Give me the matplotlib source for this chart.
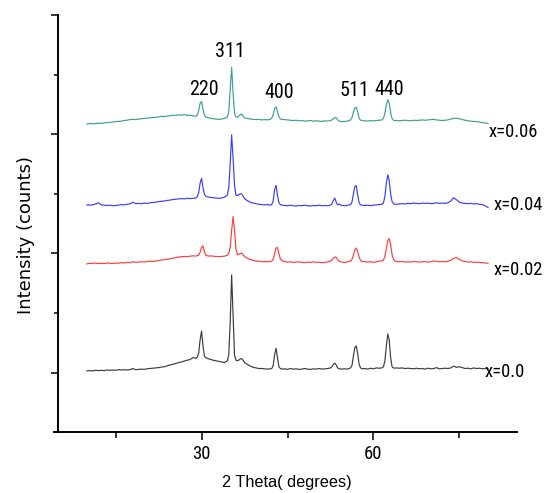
import matplotlib
matplotlib.use("Agg")
import matplotlib.pyplot as plt
from matplotlib.ticker import FixedLocator, NullFormatter
from matplotlib.font_manager import FontProperties
import numpy as np

plt.rcParams['font.family'] = ['Liberation Sans', 'DejaVu Sans']

# ---------------- data (2 theta grid, by segment) ----------------
theta_segments = [
    [10.0, 10.5, 11.0, 11.5, 12.0, 12.5, 13.0, 13.5, 14.0, 14.5, 15.0, 15.5, 16.0, 16.5,
     17.0, 17.5, 18.0, 18.5, 19.0, 19.5, 20.0, 20.5, 21.0, 21.5, 22.0, 22.5, 23.0, 23.5,
     24.0, 24.5, 25.0, 25.5, 26.0, 26.5, 27.0, 27.5, 28.0, 28.5],
    [29.0, 29.25, 29.5, 29.75, 30.0, 30.25, 30.5, 30.75, 31.0, 31.25, 31.5],
    [32.0, 32.5, 33.0, 33.5, 34.0, 34.5],
    [34.75, 35.0, 35.25, 35.5, 35.75, 36.0, 36.25, 36.5, 36.75, 37.0, 37.25, 37.5],
    [38.0, 38.5, 39.0, 39.5, 40.0, 40.5, 41.0, 41.5, 42.0],
    [42.25, 42.5, 42.75, 43.0, 43.25, 43.5, 43.75, 44.0],
    [44.5, 45.0, 45.5, 46.0, 46.5, 47.0, 47.5, 48.0, 48.5, 49.0, 49.5, 50.0, 50.5, 51.0,
     51.5, 52.0, 52.5],
    [52.75, 53.0, 53.25, 53.5, 53.75, 54.0],
    [54.5, 55.0, 55.5, 56.0],
    [56.25, 56.5, 56.75, 57.0, 57.25, 57.5, 57.75, 58.0],
    [58.5, 59.0, 59.5, 60.0, 60.5, 61.0, 61.5],
    [61.75, 62.0, 62.25, 62.5, 62.75, 63.0, 63.25, 63.5, 63.75],
    [64.0, 64.5, 65.0, 65.5, 66.0, 66.5, 67.0, 67.5, 68.0, 68.5, 69.0, 69.5, 70.0, 70.5,
     71.0, 71.5, 72.0, 72.5, 73.0, 73.5, 74.0, 74.5, 75.0, 75.5, 76.0, 76.5, 77.0, 77.5,
     78.0, 78.5, 79.0, 79.5, 80.0],
]

# intensities (offset, arbitrary units) for each sample
int_x000 = [
    [1.03, 1.035, 1.03, 1.04, 1.035, 1.04, 1.035, 1.045, 1.04, 1.045, 1.04, 1.05, 1.045, 1.05,
     1.045, 1.05, 1.07, 1.05, 1.055, 1.06, 1.055, 1.065, 1.07, 1.075, 1.08, 1.085, 1.095, 1.10,
     1.115, 1.13, 1.14, 1.155, 1.17, 1.18, 1.195, 1.21, 1.22, 1.255],
    [1.24, 1.26, 1.33, 1.55, 1.70, 1.45, 1.28, 1.25, 1.24, 1.23, 1.225],
    [1.21, 1.20, 1.19, 1.18, 1.17, 1.20],
    [1.30, 1.85, 2.64, 1.95, 1.30, 1.21, 1.20, 1.21, 1.23, 1.235, 1.21, 1.17],
    [1.14, 1.11, 1.09, 1.08, 1.07, 1.07, 1.065, 1.06, 1.065],
    [1.07, 1.12, 1.30, 1.41, 1.25, 1.10, 1.07, 1.06],
    [1.065, 1.055, 1.07, 1.06, 1.065, 1.055, 1.06, 1.07, 1.06, 1.055, 1.065, 1.06, 1.07, 1.06,
     1.065, 1.07, 1.08],
    [1.10, 1.14, 1.16, 1.13, 1.08, 1.065],
    [1.06, 1.065, 1.06, 1.08],
    [1.12, 1.28, 1.42, 1.45, 1.32, 1.14, 1.08, 1.065],
    [1.07, 1.06, 1.075, 1.065, 1.08, 1.075, 1.08],
    [1.10, 1.20, 1.45, 1.65, 1.55, 1.25, 1.10, 1.08, 1.075],
    [1.08, 1.075, 1.08, 1.07, 1.075, 1.07, 1.065, 1.075, 1.065, 1.07, 1.06, 1.075, 1.065, 1.07,
     1.085, 1.065, 1.07, 1.075, 1.07, 1.08, 1.11, 1.09, 1.10, 1.085, 1.07, 1.075, 1.065, 1.08,
     1.07, 1.075, 1.065, 1.07, 1.07],
]

int_x002 = [
    [2.825, 2.835, 2.83, 2.84, 2.83, 2.835, 2.83, 2.84, 2.835, 2.83, 2.84, 2.835, 2.845, 2.84,
     2.85, 2.845, 2.86, 2.85, 2.855, 2.86, 2.855, 2.865, 2.87, 2.865, 2.875, 2.88, 2.89, 2.895,
     2.905, 2.91, 2.92, 2.93, 2.94, 2.945, 2.95, 2.945, 2.955, 2.96],
    [2.955, 2.965, 2.97, 3.02, 3.10, 3.13, 3.03, 2.97, 2.96, 2.955, 2.96],
    [2.955, 2.95, 2.945, 2.95, 2.955, 2.97],
    [3.00, 3.10, 3.38, 3.62, 3.40, 3.08, 2.98, 2.985, 3.00, 3.005, 2.98, 2.95],
    [2.92, 2.90, 2.885, 2.875, 2.87, 2.86, 2.865, 2.86, 2.865],
    [2.87, 2.90, 3.00, 3.09, 3.10, 3.00, 2.91, 2.88],
    [2.865, 2.855, 2.86, 2.85, 2.855, 2.86, 2.85, 2.845, 2.855, 2.85, 2.86, 2.85, 2.855, 2.845,
     2.85, 2.86, 2.87],
    [2.89, 2.92, 2.94, 2.935, 2.90, 2.87],
    [2.855, 2.85, 2.86, 2.87],
    [2.90, 2.97, 3.06, 3.09, 3.03, 2.94, 2.88, 2.865],
    [2.86, 2.855, 2.86, 2.85, 2.86, 2.87, 2.875],
    [2.89, 2.95, 3.08, 3.22, 3.25, 3.15, 2.98, 2.90, 2.87],
    [2.865, 2.86, 2.865, 2.855, 2.86, 2.855, 2.865, 2.86, 2.855, 2.86, 2.865, 2.855, 2.86, 2.875,
     2.87, 2.86, 2.865, 2.86, 2.87, 2.885, 2.92, 2.93, 2.90, 2.875, 2.865, 2.855, 2.86, 2.85,
     2.855, 2.85, 2.845, 2.84, 2.835],
]

int_x004 = [
    [3.815, 3.81, 3.815, 3.83, 3.85, 3.815, 3.81, 3.805, 3.81, 3.80, 3.805, 3.81, 3.82, 3.815,
     3.825, 3.83, 3.86, 3.835, 3.84, 3.835, 3.845, 3.84, 3.85, 3.855, 3.86, 3.87, 3.875, 3.88,
     3.89, 3.895, 3.905, 3.91, 3.915, 3.92, 3.915, 3.925, 3.92, 3.925],
    [3.93, 3.95, 4.02, 4.18, 4.26, 4.10, 3.99, 3.96, 3.95, 3.945, 3.94],
    [3.935, 3.93, 3.925, 3.93, 3.945, 3.98],
    [4.10, 4.50, 4.99, 4.60, 4.15, 3.98, 3.97, 3.985, 4.00, 4.00, 3.96, 3.92],
    [3.885, 3.86, 3.845, 3.835, 3.825, 3.82, 3.815, 3.82, 3.81],
    [3.82, 3.88, 4.07, 4.14, 3.98, 3.85, 3.82, 3.81],
    [3.805, 3.80, 3.81, 3.80, 3.795, 3.805, 3.80, 3.81, 3.80, 3.795, 3.805, 3.80, 3.81, 3.80,
     3.805, 3.80, 3.81],
    [3.83, 3.89, 3.93, 3.86, 3.815, 3.83],
    [3.805, 3.80, 3.81, 3.82],
    [3.86, 4.00, 4.12, 4.14, 3.98, 3.85, 3.815, 3.81],
    [3.805, 3.81, 3.80, 3.81, 3.815, 3.82, 3.825],
    [3.85, 3.96, 4.18, 4.32, 4.22, 4.00, 3.87, 3.835, 3.825],
    [3.825, 3.83, 3.835, 3.83, 3.84, 3.835, 3.845, 3.84, 3.835, 3.845, 3.84, 3.845, 3.835, 3.84,
     3.85, 3.84, 3.845, 3.84, 3.85, 3.88, 3.935, 3.90, 3.86, 3.845, 3.84, 3.835, 3.84, 3.83,
     3.835, 3.825, 3.82, 3.80, 3.77],
]

int_x006 = [
    [5.17, 5.18, 5.175, 5.18, 5.185, 5.18, 5.19, 5.195, 5.20, 5.205, 5.21, 5.215, 5.22, 5.23,
     5.235, 5.245, 5.25, 5.245, 5.255, 5.26, 5.265, 5.27, 5.275, 5.28, 5.285, 5.29, 5.30, 5.295,
     5.305, 5.31, 5.32, 5.315, 5.325, 5.32, 5.33, 5.315, 5.32, 5.31],
    [5.30, 5.32, 5.40, 5.52, 5.55, 5.42, 5.32, 5.29, 5.28, 5.275, 5.27],
    [5.26, 5.255, 5.25, 5.255, 5.265, 5.29],
    [5.38, 5.75, 6.12, 5.70, 5.35, 5.29, 5.285, 5.30, 5.33, 5.34, 5.30, 5.275],
    [5.265, 5.255, 5.25, 5.245, 5.25, 5.24, 5.245, 5.24, 5.25],
    [5.27, 5.33, 5.43, 5.46, 5.38, 5.29, 5.26, 5.25],
    [5.245, 5.24, 5.235, 5.23, 5.235, 5.225, 5.23, 5.22, 5.225, 5.23, 5.22, 5.225, 5.22, 5.215,
     5.225, 5.22, 5.23],
    [5.24, 5.26, 5.28, 5.275, 5.24, 5.22],
    [5.21, 5.215, 5.22, 5.24],
    [5.28, 5.37, 5.44, 5.45, 5.37, 5.27, 5.235, 5.23],
    [5.225, 5.22, 5.23, 5.225, 5.23, 5.235, 5.24],
    [5.27, 5.35, 5.50, 5.58, 5.52, 5.36, 5.26, 5.235, 5.23],
    [5.23, 5.225, 5.23, 5.235, 5.23, 5.225, 5.235, 5.23, 5.235, 5.24, 5.235, 5.24, 5.245, 5.25,
     5.24, 5.235, 5.23, 5.235, 5.24, 5.255, 5.265, 5.27, 5.26, 5.245, 5.235, 5.225, 5.22, 5.215,
     5.21, 5.205, 5.195, 5.19, 5.18],
]

sample_labels = ['x=0.0', 'x=0.02', 'x=0.04', 'x=0.06']
sample_colors = ['#3c3c3c', '#ff3b3b', '#3b3bff', '#3f9d93']
label_pos_x = [79.3, 80.9, 81.0, 80.0]
label_pos_y = [0.93, 2.64, 3.73, 4.96]

peak_labels = ['220', '311', '400', '511', '440']
peak_label_x = [30.45, 34.9, 43.55, 56.7, 62.7]
peak_label_y = [5.65, 6.30, 5.61, 5.645, 5.65]

x_major_ticks = [30, 60]
x_tick_labels = ['30', '60']
x_minor_ticks = [15, 45, 75]
y_major_ticks = [1, 3, 5, 7]
y_minor_ticks = [2, 4, 6]

# condensed face for the narrow-looking labels
cond = dict(family=['Roboto Condensed', 'Open Sans Condensed', 'Noto Sans', 'Liberation Sans'],
            stretch='condensed')

# ---------------- figure ----------------
W, H = 545, 493
fig = plt.figure(figsize=(W / 100, H / 100), dpi=100)
ax = fig.add_axes([58.3 / W, 1 - 432.3 / H, (516.7 - 58.3) / W, (432.3 - 15) / H])

theta = np.concatenate([np.array(s) for s in theta_segments])
series = [int_x000, int_x002, int_x004, int_x006]
for vals, col in zip(series, sample_colors):
    y = np.concatenate([np.array(s) for s in vals])
    ax.plot(theta, y, color=col, lw=0.85)

for lab, lx, ly in zip(sample_labels, label_pos_x, label_pos_y):
    ax.text(lx, ly, lab, ha='left', va='baseline', clip_on=False,
            fontproperties=FontProperties(size=13.3, **cond))

for lab, lx, ly in zip(peak_labels, peak_label_x, peak_label_y):
    ax.text(lx, ly, lab, ha='center', va='baseline',
            fontproperties=FontProperties(size=14.5, **cond))

ax.set_xlim(5, 85)
ax.set_ylim(0, 7)
ax.spines['top'].set_visible(False)
ax.spines['right'].set_visible(False)
for s in ['left', 'bottom']:
    ax.spines[s].set_linewidth(1.4)
ax.spines['bottom'].set_bounds(4.3, 85)

ax.set_xticks(x_major_ticks)
ax.set_xticklabels(x_tick_labels, fontproperties=FontProperties(size=13.5, **cond))
ax.xaxis.set_minor_locator(FixedLocator(x_minor_ticks))
ax.yaxis.set_major_locator(FixedLocator(y_major_ticks))
ax.yaxis.set_minor_locator(FixedLocator(y_minor_ticks))
ax.yaxis.set_major_formatter(NullFormatter())
ax.tick_params(axis='x', which='major', direction='out', length=5.5, width=1.1, pad=3.5)
ax.tick_params(axis='x', which='minor', direction='out', length=4, width=1.1)
ax.tick_params(axis='y', which='major', direction='out', length=5, width=1.1)
ax.tick_params(axis='y', which='minor', direction='out', length=3, width=1.1)

fig.text(25.8 / W, 1 - 235 / H, 'Intensity (counts)', rotation=90, ha='center', va='center',
         fontsize=13, family='DejaVu Sans')
fig.text(287 / W, 1 - 483 / H, '2 Theta( degrees)', ha='center', va='center', fontsize=11.7,
         family='Liberation Sans')

fig.savefig('out.png', dpi=100)
